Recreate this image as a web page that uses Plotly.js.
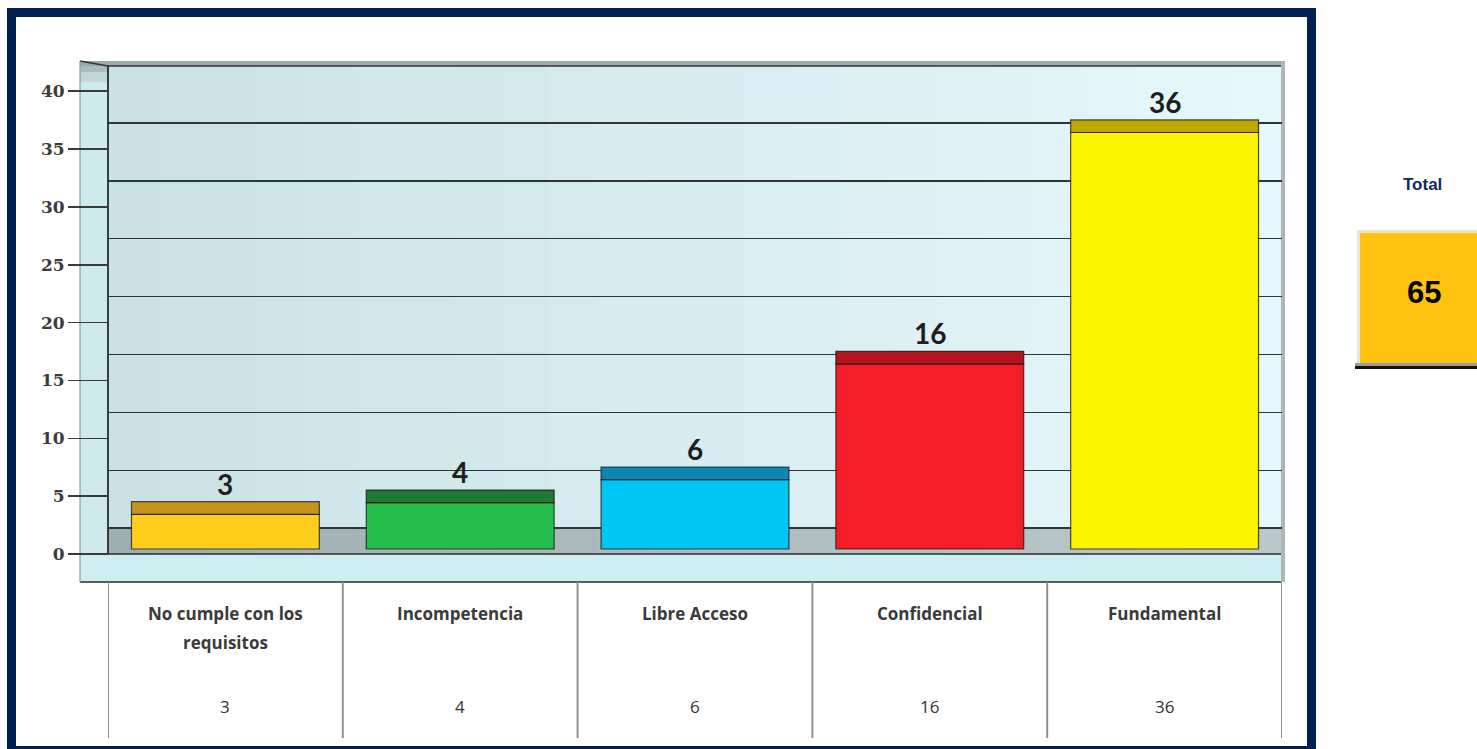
<!DOCTYPE html>
<html>
<head>
<meta charset="utf-8">
<script src="https://cdn.plot.ly/plotly-3.0.1.min.js"></script>
<style>
  html, body { margin: 0; padding: 0; background: #ffffff; }
  #chart { width: 1477px; height: 749px; }
</style>
</head>
<body>
<div id="chart"></div>
<script>
// ---------- data ----------
const categories = ['No cumple con los requisitos', 'Incompetencia', 'Libre Acceso', 'Confidencial', 'Fundamental'];
const categoryLabelLines = [['No cumple con los', 'requisitos'], ['Incompetencia'], ['Libre Acceso'], ['Confidencial'], ['Fundamental']];
const values = [3, 4, 6, 16, 36];
const yTickValues = [0, 5, 10, 15, 20, 25, 30, 35, 40];
const totalLabel = 'Total';

// ---------- styling ----------
const W = 1477, H = 749;
const U = 11.57;                 // pixels per unit
const frontColors = ['#ffcd1c', '#26bf4e', '#00c6f5', '#f41d27', '#fbf400'];
const topColors   = ['#c5951a', '#1e7b37', '#0a87b3', '#b5141c', '#bba800'];
const DEPTH = 12.6 / U;          // top face thickness in data units

const px = x => x / W;
const py = y => 1 - y / H;

const plotTop = 66, plotBottom = 582;
const barZero = 549, tickZero = 554, backZero = 528;
const ydom = [py(plotBottom), py(plotTop)];

const shapes = [];
function rect(x0, y0, x1, y1, fill, extra) {
  shapes.push(Object.assign({type: 'rect', xref: 'paper', yref: 'paper',
    x0: px(x0), x1: px(x1), y0: py(y1), y1: py(y0),
    fillcolor: fill, line: {width: 0}, layer: 'below'}, extra || {}));
}
function line(x0, y0, x1, y1, color, width) {
  shapes.push({type: 'line', xref: 'paper', yref: 'paper',
    x0: px(x0), x1: px(x1), y0: py(y0), y1: py(y1),
    line: {color: color, width: width}, layer: 'below'});
}

// navy frame
rect(7, 8, 1316, 760, '#00214f');
rect(16, 17, 1307, 746, '#ffffff');

// back wall gradient (stripes)
function lerp(a, b, t) { return Math.round(a + (b - a) * t); }
const cL = [202, 226, 230], cR = [229, 248, 251];
const N = 24;
for (let i = 0; i < N; i++) {
  const t = i / (N - 1);
  const x0 = 108 + (1282 - 108) * i / N, x1 = 108 + (1282 - 108) * (i + 1) / N + 0.6;
  rect(x0, 66, x1, 528, `rgb(${lerp(cL[0], cR[0], t)},${lerp(cL[1], cR[1], t)},${lerp(cL[2], cR[2], t)})`);
}
// floor
const fL = [158, 175, 178], fR = [186, 200, 202];
for (let i = 0; i < N; i++) {
  const t = i / (N - 1);
  const x0 = 108 + (1282 - 108) * i / N, x1 = 108 + (1282 - 108) * (i + 1) / N + 0.6;
  rect(x0, 528, x1, 554, `rgb(${lerp(fL[0], fR[0], t)},${lerp(fL[1], fR[1], t)},${lerp(fL[2], fR[2], t)})`);
}
// side wall
rect(80, 61, 108, 582, '#cdeaed');
rect(80, 61, 108, 82, '#c0d6d9');
rect(80, 61, 108, 72, '#a9bcbe');
// top edge band
rect(80, 61, 1284, 66, '#9caaab');
line(80, 61, 108, 66, '#333333', 1.5);
line(108, 66, 1282, 66, '#333333', 1.5);
// base slab
rect(80, 554, 1282, 582, '#cfeef1');
line(80, 554, 1282, 554, '#2a2a2a', 1.5);
line(80, 582, 1282, 582, '#2a2a2a', 1.5);
// left back edge
line(108, 66, 108, 554, '#2a2a2a', 1.8);
line(80, 61, 80, 582, '#8e9c9e', 1.2);
// right edge
rect(1281, 61, 1285, 582, '#aab6b8');

// table vertical separators (category boundaries)
for (let i = 0; i <= categories.length; i++) {
  shapes.push({type: 'line', xref: 'x', yref: 'paper', x0: i - 0.5, x1: i - 0.5,
    y0: py(582), y1: py(738), line: {color: '#8f8f8f', width: 2}, layer: 'below'});
}

// total box
rect(1357, 230, 1490, 364, '#e8e3d5');
rect(1360, 233, 1490, 363, '#ffc20e');
rect(1355, 363, 1490, 366, '#9c9c9c');
rect(1355, 366, 1490, 369, '#111111');

// ---------- annotations ----------
const annotations = [];
const labelFont = {family: 'Lato, "Open Sans", sans-serif', size: 28, color: '#1e1e1e', weight: 'bold'};
values.forEach((v, i) => {
  annotations.push({x: categories[i], y: v + DEPTH, xref: 'x', yref: 'y', text: String(v),
    showarrow: false, yanchor: 'bottom', yshift: -1, font: labelFont});
});
const tableFont = {family: '"Open Sans", Lato, sans-serif', size: 17, color: '#3a3a3a', weight: 'bold'};
const valueFont = {family: '"Open Sans", Lato, sans-serif', size: 17, color: '#333333', weight: 'normal'};
categoryLabelLines.forEach((lines, i) => {
  lines.forEach((t, j) => {
    annotations.push({x: categories[i], y: py(613 + j * 29), xref: 'x', yref: 'paper', text: t,
      showarrow: false, yanchor: 'middle', font: tableFont});
  });
  annotations.push({x: categories[i], y: py(706), xref: 'x', yref: 'paper', text: String(values[i]),
    showarrow: false, yanchor: 'middle', font: valueFont});
});
const total = values.reduce((a, b) => a + b, 0);
annotations.push({x: px(1422), y: py(185), xref: 'paper', yref: 'paper', text: totalLabel, showarrow: false,
  xanchor: 'center', yanchor: 'middle', font: {family: '"Liberation Sans", Arial, sans-serif', size: 17, color: '#13285a', weight: 'bold'}});
annotations.push({x: px(1424), y: py(292), xref: 'paper', yref: 'paper', text: String(total), showarrow: false,
  xanchor: 'center', yanchor: 'middle', font: {family: '"Liberation Sans", Arial, sans-serif', size: 31, color: '#000000', weight: 'bold'}});

// ---------- traces ----------
const traces = [
  {type: 'bar', x: categories, y: values, width: 0.8, xaxis: 'x', yaxis: 'y',
   marker: {color: frontColors, line: {color: 'rgba(20,20,20,0.75)', width: 1.2}},
   hoverinfo: 'x+y'},
  {type: 'bar', x: categories, y: values.map(() => DEPTH), base: values, width: 0.8, xaxis: 'x', yaxis: 'y',
   marker: {color: topColors, line: {color: 'rgba(20,20,20,0.75)', width: 1.2}},
   hoverinfo: 'skip'}
];

const layout = {
  width: W, height: H,
  margin: {l: 0, r: 0, t: 0, b: 0, pad: 0},
  paper_bgcolor: '#ffffff', plot_bgcolor: 'rgba(0,0,0,0)',
  showlegend: false, barmode: 'overlay',
  xaxis: {domain: [px(108), px(1282)], range: [-0.5, 4.5], type: 'category',
          showticklabels: false, showgrid: false, zeroline: false, showline: false, ticks: '', fixedrange: true},
  yaxis: {domain: ydom, range: [-(plotBottom - barZero) / U, (barZero - plotTop) / U],
          showticklabels: false, showgrid: false, zeroline: false, showline: false, ticks: '', fixedrange: true},
  yaxis2: {overlaying: 'y', anchor: 'free', position: px(108), side: 'left',
           range: [-(plotBottom - tickZero) / U, (tickZero - plotTop) / U],
           tickvals: yTickValues, ticktext: yTickValues.map(String),
           ticks: 'outside', ticklen: 40, tickwidth: 1.5, tickcolor: '#3a3a3a',
           tickfont: {family: '"DejaVu Serif", serif', size: 17, color: '#3c3c3c', weight: 'bold'},
           showgrid: false, zeroline: false, showline: false, fixedrange: true},
  yaxis3: {overlaying: 'y', anchor: 'x', side: 'right',
           range: [-(plotBottom - backZero) / U, (backZero - plotTop) / U],
           dtick: 5, tick0: 0, showticklabels: false, ticks: '',
           showgrid: true, gridcolor: '#333333', gridwidth: 1.3,
           zeroline: true, zerolinecolor: '#333333', zerolinewidth: 1.3, showline: false, fixedrange: true},
  shapes: shapes,
  annotations: annotations
};

// invisible anchor traces so the overlay axes render
traces.push({type: 'scatter', x: [categories[0]], y: [0], yaxis: 'y2', mode: 'markers', marker: {opacity: 0}, hoverinfo: 'skip'});
traces.push({type: 'scatter', x: [categories[0]], y: [0], yaxis: 'y3', mode: 'markers', marker: {opacity: 0}, hoverinfo: 'skip'});

Plotly.newPlot('chart', traces, layout, {displayModeBar: false, staticPlot: true});
</script>
</body>
</html>
